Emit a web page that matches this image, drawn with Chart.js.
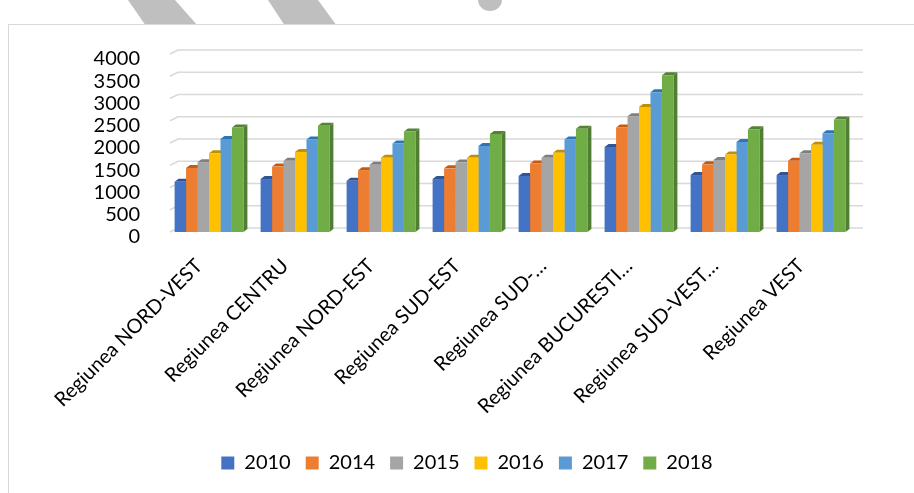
<!DOCTYPE html>
<html><head><meta charset="utf-8">
<script src="https://cdn.jsdelivr.net/npm/chart.js@4.4.1/dist/chart.umd.min.js"></script>
<style>
html,body{margin:0;padding:0;background:#fff;}
#wrap{position:relative;width:914px;height:493px;overflow:hidden;background:#fff;}
.shape{position:absolute;left:0;top:0;width:914px;height:493px;background:#bfbfbf;}
#frame{position:absolute;left:8px;top:24px;width:940px;height:520px;border:1px solid #d9d9d9;background:#fff;box-sizing:border-box;}
canvas{position:absolute;left:0;top:0;}
</style></head>
<body><div id="wrap">
<div class="shape" style="clip-path:polygon(128px 0,175px 0,198px 26px,146px 26px)"></div>
<div class="shape" style="clip-path:polygon(268px 0,318px 0,337px 26px,285px 26px)"></div>
<div class="shape" style="clip-path:ellipse(12px 11px at 490px 0px)"></div>
<div id="frame"></div>
<canvas id="c" width="914" height="493"></canvas>
</div>
<script>
const categories = ['Regiunea NORD-VEST','Regiunea CENTRU','Regiunea NORD-EST','Regiunea SUD-EST','Regiunea SUD-…','Regiunea BUCURESTI…','Regiunea SUD-VEST…','Regiunea VEST'];
const years = ['2010','2014','2015','2016','2017','2018'];
const v2010 = [1130, 1190, 1150, 1190, 1260, 1910, 1280, 1280];
const v2014 = [1440, 1470, 1390, 1430, 1540, 2350, 1520, 1600];
const v2015 = [1570, 1600, 1510, 1560, 1670, 2600, 1620, 1770];
const v2016 = [1770, 1800, 1670, 1670, 1780, 2810, 1740, 1960];
const v2017 = [2090, 2080, 1990, 1930, 2080, 3140, 2020, 2220];
const v2018 = [2350, 2390, 2260, 2200, 2320, 3520, 2310, 2530];
const yTicks = [0, 500, 1000, 1500, 2000, 2500, 3000, 3500, 4000];

const frontColors = ['#4472C4','#ED7D31','#A5A5A5','#FFC000','#5B9BD5','#70AD47'];
const topColors   = ['#2F5597','#C55A11','#7F7F7F','#BF9000','#2E75B6','#548235'];
const sideColors  = ['#2F528F','#AE5A21','#787878','#BA8C00','#41719C','#507E32'];
const series = [v2010, v2014, v2015, v2016, v2017, v2018];

const BAR_DX = 4, BAR_DY = 3, WALL_DX = 8, WALL_DY = 4;
const LEGEND_SHIFT = 40;

const threeD = {
  id: 'threeD',
  afterUpdate(chart) {
    const lg = chart.legend;
    if (lg) { lg.left += LEGEND_SHIFT; lg.right += LEGEND_SHIFT; }
  },
  beforeDatasetsDraw(chart) {
    const {ctx, chartArea: a, scales: {y}} = chart;
    ctx.save();
    ctx.strokeStyle = '#d9d9d9';
    ctx.lineWidth = 1.6;
    const x0 = a.left + 4;
    y.ticks.forEach(t => {
      const py = y.getPixelForValue(t.value);
      ctx.beginPath();
      ctx.moveTo(x0, py);
      ctx.lineTo(x0 + WALL_DX, py - WALL_DY);
      ctx.lineTo(a.right + 9, py - WALL_DY);
      ctx.stroke();
    });
    chart.data.datasets.forEach((ds, i) => {
      const meta = chart.getDatasetMeta(i);
      meta.data.forEach(bar => {
        const p = bar.getProps(['x', 'y', 'base', 'width'], true);
        const l = p.x - p.width / 2, r = p.x + p.width / 2;
        ctx.fillStyle = sideColors[i];
        ctx.beginPath();
        ctx.moveTo(r, p.y); ctx.lineTo(r + BAR_DX, p.y - BAR_DY);
        ctx.lineTo(r + BAR_DX, p.base - BAR_DY); ctx.lineTo(r, p.base);
        ctx.closePath(); ctx.fill();
        ctx.fillStyle = topColors[i];
        ctx.beginPath();
        ctx.moveTo(l, p.y); ctx.lineTo(l + BAR_DX, p.y - BAR_DY);
        ctx.lineTo(r + BAR_DX, p.y - BAR_DY); ctx.lineTo(r, p.y);
        ctx.closePath(); ctx.fill();
      });
    });
    ctx.restore();
  }
};

const FONT = {family: 'Lato', size: 20};

new Chart(document.getElementById('c'), {
  type: 'bar',
  data: {
    labels: categories,
    datasets: years.map((yr, i) => ({
      label: yr,
      data: series[i],
      backgroundColor: frontColors[i],
      borderWidth: 0,
      categoryPercentage: 0.8,
      barPercentage: 1.0
    }))
  },
  options: {
    responsive: false,
    animation: false,
    layout: {padding: {top: 54, right: 60, bottom: 10, left: 0}},
    plugins: {
      tooltip: {enabled: false},
      legend: {
        position: 'bottom',
        labels: {boxWidth: 13, boxHeight: 13, padding: 15, color: '#000', font: FONT}
      }
    },
    scales: {
      x: {
        grid: {display: false, drawTicks: false},
        border: {display: false},
        ticks: {maxRotation: 45, minRotation: 45, autoSkip: false, padding: 22, labelOffset: -10, color: '#000', font: FONT},
        afterFit(s) { s.height = 206; }
      },
      y: {
        min: 0, max: 4000,
        afterBuildTicks(s) { s.ticks = yTicks.map(v => ({value: v})); },
        grid: {display: false, drawTicks: false},
        border: {display: false},
        ticks: {autoSkip: false, padding: 26, labelOffset: 5, color: '#000', font: FONT,
                callback: v => String(v)},
        afterFit(s) { s.width = 166; }
      }
    }
  },
  plugins: [threeD]
});
</script>
</body></html>
